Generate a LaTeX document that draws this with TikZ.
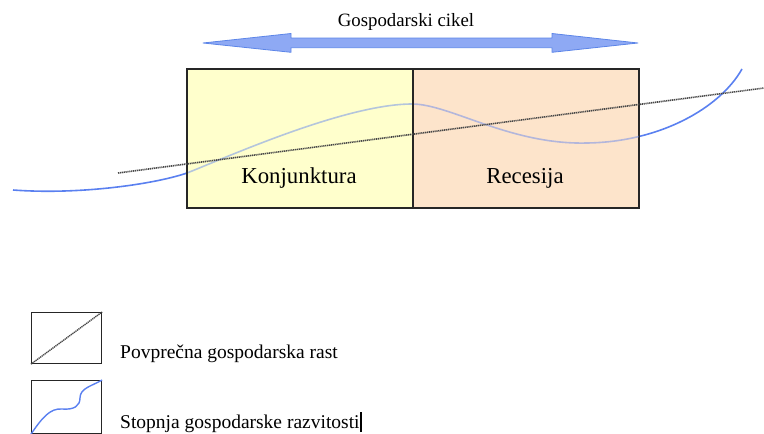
\documentclass[tikz,border=0pt]{standalone}
\usepackage{fontspec}
\setmainfont{Liberation Serif}
\begin{document}
\begin{tikzpicture}[x=1pt,y=-1pt,
  boxline/.style={draw=black!85, line width=1.1pt},
  trend/.style={draw=black!72, line width=1.6pt, dash pattern=on 1.2pt off 0.7pt},
  wave/.style={draw=wavblue, line width=1.6pt},
  lbl/.style={inner sep=0pt, anchor=base},
  legtext/.style={inner sep=0pt, anchor=base west, font=\fontsize{19.5}{22}\selectfont},
]
\definecolor{wavblue}{HTML}{5A80F0}
\definecolor{arrfill}{HTML}{8EA9F4}
\definecolor{arredge}{HTML}{5C85E8}
\definecolor{konjfill}{HTML}{FFFFCC}
\definecolor{recfill}{HTML}{FDE4CB}
\useasboundingbox (0,0) rectangle (764,434);

% title
\node[lbl, font=\fontsize{18.8}{22}\selectfont] (title) at (406,26) {Gospodarski cikel};

% double arrow
\coordinate (aL) at (203,43);
\coordinate (aR) at (638,43);
\draw[fill=arrfill, draw=arredge, line width=0.8pt, line join=round]
  (aL) -- (291,33.5) -- (291,38) -- (552,38) -- (552,33.5) -- (aR)
  -- (552,52.3) -- (552,47.7) -- (291,47.7) -- (291,52.3) -- cycle;

% wave path
\def\wavepath{(13,190) .. controls (80,195) and (155,184) .. (187,173)
  .. controls (225,158) and (345,104) .. (412,104)
  .. controls (450,104) and (510,145) .. (587,143)
  .. controls (660,142) and (720,108) .. (742,69)}
\draw[wave] \wavepath;

% boxes
\node[boxline, fill=konjfill, minimum width=225.5pt, minimum height=138pt, inner sep=0pt, anchor=north west] (konj) at (187,69) {};
\node[boxline, fill=recfill, minimum width=226pt, minimum height=138pt, inner sep=0pt, anchor=north west] (rec) at (412.3,69) {};

% wave inside boxes (faded)
\begin{scope}
  \clip (konj.north west) rectangle (rec.south east);
  \draw[wave, draw opacity=0.45] \wavepath;
\end{scope}
\draw[boxline] (konj.north west) rectangle (konj.south east);
\draw[boxline] (rec.north west) rectangle (rec.south east);

% trend line
\coordinate (t0) at (118,173);
\coordinate (t1) at (764,88);
\draw[trend] (t0) -- (t1);

% labels
\node[lbl, font=\fontsize{22.8}{26}\selectfont] (klbl) at (299,183) {Konjunktura};
\node[lbl, font=\fontsize{22.8}{26}\selectfont] (rlbl) at (525,183) {Recesija};

% legend
\node[draw=black!85, line width=1.1pt, minimum width=70pt, minimum height=51pt, inner sep=0pt, anchor=north west] (leg1) at (31,312) {};
\draw[trend, line width=1.4pt] (leg1.south west) -- (leg1.north east);
\node[legtext] (leg1t) at (120,358) {Povprečna gospodarska rast};

\node[draw=black!85, line width=1.1pt, minimum width=70pt, minimum height=53pt, inner sep=0pt, anchor=north west] (leg2) at (31,380) {};
\draw[wave, line width=1.4pt] (leg2.south west) .. controls (42,418) and (50,408) .. (62,409)
  .. controls (74,410) and (80,406) .. (80,398) .. controls (80,388) and (92,386) .. (leg2.north east);
\node[legtext] (leg2t) at (120,428) {Stopnja gospodarske razvitosti\rule[-4pt]{2pt}{20pt}};
\end{tikzpicture}
\end{document}
